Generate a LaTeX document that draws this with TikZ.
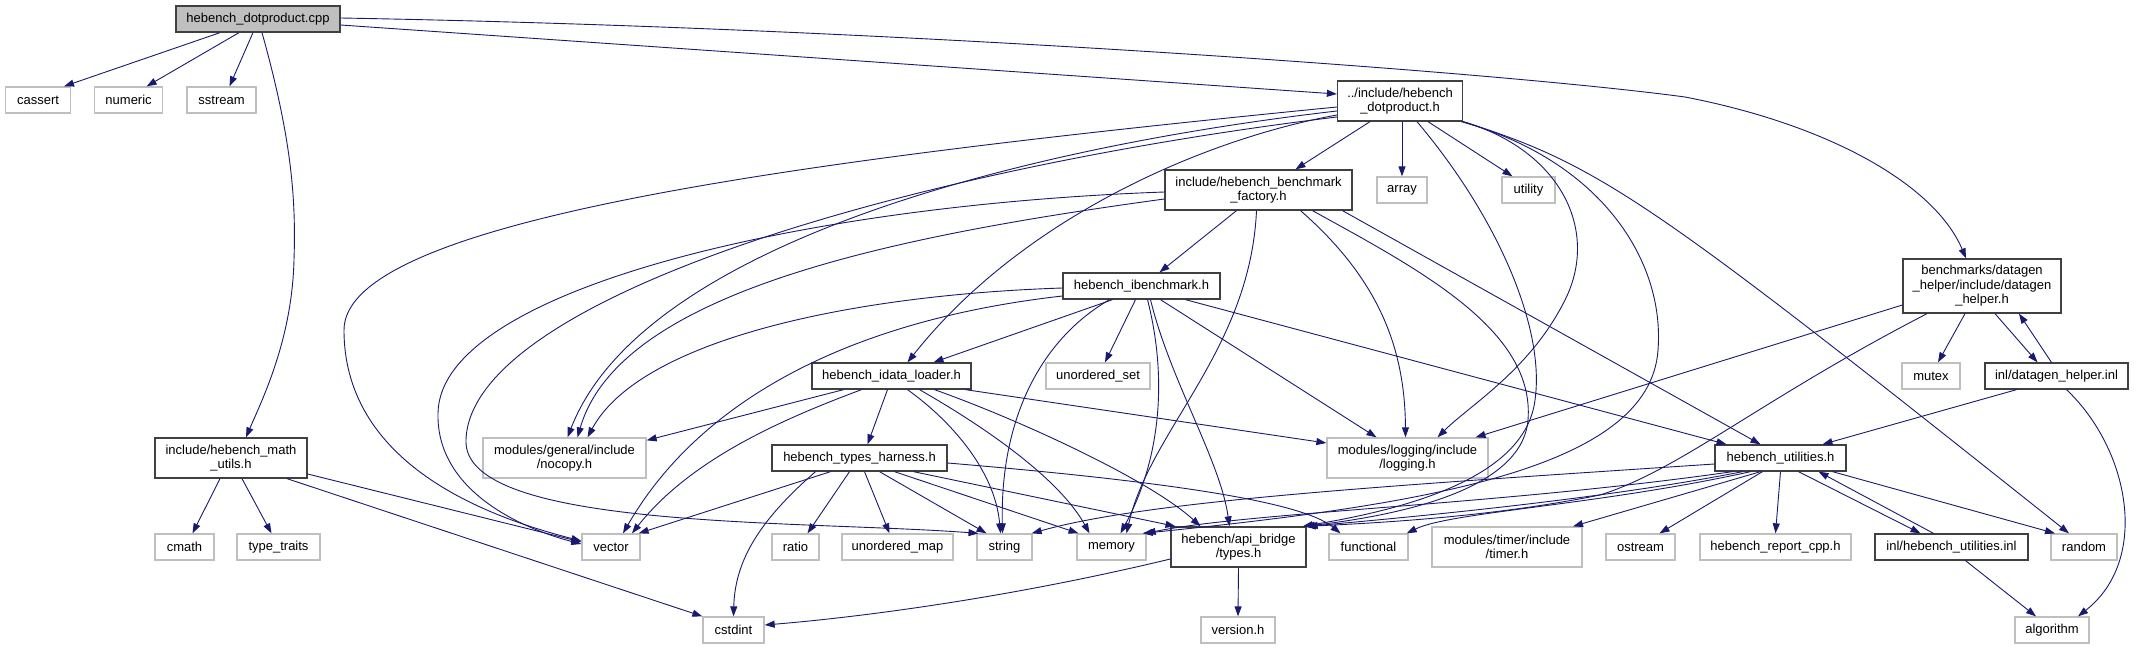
\documentclass[tikz,border=0pt]{standalone}
\usepackage{fontspec}
\setmainfont{Liberation Sans}
\usetikzlibrary{arrows.meta}
\definecolor{edgec}{HTML}{191970}
\definecolor{gline}{HTML}{BFBFBF}
\definecolor{dline}{HTML}{404040}
\definecolor{cppfill}{HTML}{BFBFBF}
\newcommand{\nodefont}{\fontsize{13}{14.5}\selectfont}
\begin{document}
\begin{tikzpicture}[x=1pt,y=-1pt,
  own/.style={draw=dline, line width=1.3pt, fill=white, inner sep=0pt, align=center, font=\nodefont},
  sys/.style={draw=gline, line width=1.3pt, fill=white, inner sep=0pt, align=center, font=\nodefont},
  dep/.style={draw=edgec, line width=0.9pt, -{Triangle[length=10pt,width=7pt]}, fill=none}]
\useasboundingbox (0,0) rectangle (2144,648);
% ---------------- nodes ----------------
\node[own, fill=cppfill, minimum width=164pt, minimum height=26pt] (cpp) at (258,19) {hebench\_dotproduct.cpp};
\node[sys, minimum width=65pt, minimum height=26pt] (cassert) at (38,100) {cassert};
\node[sys, minimum width=68pt, minimum height=26pt] (numeric) at (128.6,100) {numeric};
\node[sys, minimum width=69pt, minimum height=26pt] (sstream) at (221.5,100) {sstream};
\node[own, minimum width=125pt, minimum height=40pt] (dph) at (1400,101) {../include/hebench\\\_dotproduct.h};
\node[own, minimum width=187pt, minimum height=40pt] (factory) at (1258.5,190) {include/hebench\_benchmark\\\_factory.h};
\node[sys, minimum width=50pt, minimum height=26pt] (array) at (1402,190) {array};
\node[sys, minimum width=53pt, minimum height=26pt] (utility) at (1528.5,190) {utility};
\node[own, minimum width=158pt, minimum height=54pt] (datagen) at (1982,286) {benchmarks/datagen\\\_helper/include/datagen\\\_helper.h};
\node[own, minimum width=157pt, minimum height=26pt] (ibench) at (1141.5,286) {hebench\_ibenchmark.h};
\node[sys, minimum width=58pt, minimum height=26pt] (mutex) at (1931,376) {mutex};
\node[own, minimum width=143pt, minimum height=26pt] (inldg) at (2056.5,376) {inl/datagen\_helper.inl};
\node[own, minimum width=159pt, minimum height=26pt] (idata) at (891.5,376) {hebench\_idata\_loader.h};
\node[sys, minimum width=104pt, minimum height=26pt] (uset) at (1098,376) {unordered\_set};
\node[own, minimum width=152pt, minimum height=40pt] (math) at (231,458) {include/hebench\_math\\\_utils.h};
\node[sys, minimum width=163pt, minimum height=40pt] (nocopy) at (564.5,458) {modules/general/include\\/nocopy.h};
\node[sys, minimum width=161pt, minimum height=40pt] (logging) at (1407.5,458) {modules/logging/include\\/logging.h};
\node[own, minimum width=175pt, minimum height=26pt] (harness) at (859.5,458) {hebench\_types\_harness.h};
\node[own, minimum width=131pt, minimum height=26pt] (utilities) at (1780.5,458) {hebench\_utilities.h};
\node[sys, minimum width=59pt, minimum height=26pt] (cmath) at (184.5,547) {cmath};
\node[sys, minimum width=83pt, minimum height=26pt] (ttraits) at (278.5,547) {type\_traits};
\node[sys, minimum width=58pt, minimum height=26pt] (vector) at (611,547) {vector};
\node[sys, minimum width=47pt, minimum height=26pt] (ratio) at (795.5,547) {ratio};
\node[sys, minimum width=111pt, minimum height=26pt] (umap) at (897.5,547) {unordered\_map};
\node[sys, minimum width=55pt, minimum height=26pt] (string) at (1004.5,547) {string};
\node[sys, minimum width=69pt, minimum height=26pt] (memory) at (1111.5,547) {memory};
\node[own, minimum width=135pt, minimum height=40pt] (types) at (1238.5,547) {hebench/api\_bridge\\/types.h};
\node[sys, minimum width=79pt, minimum height=26pt] (functional) at (1368.5,547) {functional};
\node[sys, minimum width=150pt, minimum height=40pt] (timer) at (1507,547) {modules/timer/include\\/timer.h};
\node[sys, minimum width=69pt, minimum height=26pt] (ostream) at (1640.5,547) {ostream};
\node[sys, minimum width=151pt, minimum height=26pt] (report) at (1775.5,547) {hebench\_report\_cpp.h};
\node[own, minimum width=153pt, minimum height=26pt] (inlut) at (1951.5,547) {inl/hebench\_utilities.inl};
\node[sys, minimum width=66pt, minimum height=26pt] (random) at (2084,547) {random};
\node[sys, minimum width=61pt, minimum height=26pt] (cstdint) at (733.5,630) {cstdint};
\node[sys, minimum width=74pt, minimum height=26pt] (version) at (1238,630) {version.h};
\node[sys, minimum width=74pt, minimum height=26pt] (algorithm) at (2052,630) {algorithm};
% ---------------- edges: cpp ----------------
\draw[dep] ([xshift=-38pt]cpp.south) -- ([xshift=26pt]cassert.north);
\draw[dep] ([xshift=-19pt]cpp.south) -- ([xshift=18pt]numeric.north);
\draw[dep] ([xshift=-5pt]cpp.south) -- ([xshift=8pt]sstream.north);
\draw[dep] ([xshift=4pt]cpp.south) .. controls (292,140) and (296,200) .. (294,260) .. controls (292,340) and (262,400) .. ([xshift=15pt]math.north);
\draw[dep] ([yshift=-6pt]cpp.east) -- ([yshift=7pt]dph.west);
\draw[dep] ([yshift=1pt]cpp.east) .. controls (900,28) and (1500,72) .. (1685,97) .. controls (1830,125) and (1935,185) .. ([xshift=-16pt]datagen.north);
% ---------------- edges: dotproduct.h ----------------
\draw[dep] ([xshift=-30pt]dph.south) -- ([xshift=37pt]factory.north);
\draw[dep] ([xshift=2pt]dph.south) -- (array.north);
\draw[dep] ([xshift=28pt]dph.south) -- ([xshift=-16pt]utility.north);
\draw[dep] ([yshift=-14pt]dph.west) .. controls (1200,140) and (1020,220) .. ([xshift=16pt]idata.north);
\draw[dep] (dph.south east) .. controls (1560,150) and (1600,230) .. (1565,300) .. controls (1530,370) and (1470,405) .. ([xshift=30pt]logging.north);
\draw[dep] ([xshift=17pt]dph.south) .. controls (1500,220) and (1545,330) .. (1535,400) .. controls (1525,480) and (1400,510) .. ([xshift=-4pt]types.north east);
\draw[dep] ([xshift=-2pt]dph.south east) .. controls (1600,160) and (1665,260) .. (1658,350) .. controls (1650,470) and (1420,505) .. ([xshift=-4pt]memory.north east);
\draw[dep] (dph.south east) .. controls (1600,165) and (1650,200) .. ([xshift=-15pt]random.north);
\draw[dep] ([yshift=-6pt]dph.west) .. controls (800,160) and (344,220) .. (344,330) .. controls (344,470) and (500,520) .. ([yshift=6pt]vector.west);
\draw[dep] ([yshift=-10pt]dph.west) .. controls (1000,150) and (640,250) .. ([xshift=3pt]nocopy.north);
\draw[dep] ([yshift=-16pt]dph.west) .. controls (900,170) and (470,300) .. (466,440) .. controls (462,530) and (800,520) .. ([xshift=-26pt]string.north);
% ---------------- edges: factory ----------------
\draw[dep] ([xshift=-22pt]factory.south) -- ([xshift=18pt]ibench.north);
\draw[dep] ([xshift=-2pt]factory.south) .. controls (1250,350) and (1150,430) .. ([xshift=15pt]memory.north);
\draw[dep] ([xshift=42pt]factory.south) .. controls (1380,280) and (1405,350) .. ([xshift=-2pt]logging.north);
\draw[dep] ([xshift=54pt]factory.south) .. controls (1420,270) and (1535,330) .. (1528,420) .. controls (1522,490) and (1400,515) .. ([xshift=-2pt]types.north east);
\draw[dep] ([xshift=84pt]factory.south) -- ([xshift=-20pt]utilities.north);
\draw[dep] ([yshift=-2pt]factory.west) .. controls (800,205) and (440,290) .. (438,413) .. controls (436,490) and (520,528) .. ([yshift=3pt]vector.west);
\draw[dep] ([yshift=-9pt]factory.west) .. controls (900,235) and (620,290) .. ([xshift=13pt]nocopy.north);
% ---------------- edges: ibenchmark ----------------
\draw[dep] ([xshift=-29pt]ibench.south) -- ([xshift=42pt]idata.north);
\draw[dep] ([xshift=-6pt]ibench.south) -- ([xshift=7pt]uset.north);
\draw[dep] ([xshift=-32pt]ibench.south) .. controls (1040,340) and (1000,420) .. ([xshift=-2pt]string.north);
\draw[dep] ([xshift=6pt]ibench.south) .. controls (1168,380) and (1160,460) .. ([xshift=9pt]memory.north);
\draw[dep] ([xshift=9pt]ibench.south) .. controls (1170,380) and (1220,460) .. ([xshift=-9pt]types.north);
\draw[dep] ([xshift=19pt]ibench.south) -- ([xshift=-31pt]logging.north);
\draw[dep] ([xshift=44pt]ibench.south) -- ([xshift=-54pt]utilities.north);
\draw[dep] ([yshift=-2pt]ibench.west) .. controls (850,295) and (640,340) .. ([xshift=23pt]nocopy.north);
\draw[dep] ([yshift=-10pt]ibench.west) .. controls (850,320) and (700,400) .. ([xshift=12pt]vector.north);
% ---------------- edges: idata_loader ----------------
\draw[dep] ([xshift=-48pt]idata.south) -- ([yshift=-3pt]nocopy.north east);
\draw[dep] ([xshift=-30pt]idata.south) .. controls (780,420) and (690,460) .. ([xshift=21pt]vector.north);
\draw[dep] ([xshift=-4pt]idata.south) -- ([xshift=8pt]harness.north);
\draw[dep] ([xshift=16pt]idata.south) .. controls (950,420) and (995,470) .. ([xshift=-4pt]string.north);
\draw[dep] ([xshift=28pt]idata.south) .. controls (990,430) and (1060,480) .. ([xshift=-22pt]memory.north);
\draw[dep] ([xshift=43pt]idata.south) .. controls (1020,420) and (1150,480) .. ([xshift=-38pt]types.north);
\draw[dep] ([xshift=74pt]idata.south) -- ([yshift=15pt]logging.west);
% ---------------- edges: types_harness ----------------
\draw[dep] ([xshift=-44pt]harness.south) .. controls (760,520) and (735,560) .. (cstdint.north);
\draw[dep] ([xshift=-29pt]harness.south) -- ([xshift=-2pt]vector.north east);
\draw[dep] ([xshift=-10pt]harness.south) -- ([xshift=12pt]ratio.north);
\draw[dep] ([xshift=5pt]harness.south) -- ([xshift=-8pt]umap.north);
\draw[dep] ([xshift=20pt]harness.south) -- ([xshift=-18pt]string.north);
\draw[dep] ([xshift=35pt]harness.south) -- ([xshift=-33pt]memory.north);
\draw[dep] ([xshift=54pt]harness.south) -- ([xshift=-63pt]types.north);
\draw[dep] ([yshift=-5pt]harness.east) .. controls (1150,480) and (1300,500) .. ([xshift=-28pt]functional.north);
% ---------------- edges: math_utils ----------------
\draw[dep] ([xshift=-11pt]math.south) -- ([xshift=8pt]cmath.north);
\draw[dep] ([xshift=11pt]math.south) -- ([xshift=-7pt]ttraits.north);
\draw[dep] ([yshift=-16pt]math.east) -- ([yshift=5pt]vector.west);
\draw[dep] ([xshift=56pt]math.south) -- (cstdint.north west);
% ---------------- edges: types.h ----------------
\draw[dep] ([yshift=-12pt]types.west) .. controls (1000,600) and (850,618) .. ([yshift=5pt]cstdint.east);
\draw[dep] (types.south) -- (version.north);
% ---------------- edges: datagen ----------------
\draw[dep] ([yshift=-19pt]datagen.west) -- ([xshift=68pt]logging.north);
\draw[dep] ([xshift=-55pt]datagen.south) .. controls (1760,400) and (1680,470) .. (1600,495) .. controls (1500,515) and (1400,522) .. ([xshift=-1pt]types.north east);
\draw[dep] ([xshift=-17pt]datagen.south) -- ([xshift=7pt]mutex.north);
\draw[dep] ([xshift=13pt]datagen.south) -- ([xshift=-19pt]inldg.north);
\draw[dep] ([xshift=-5pt]inldg.north) -- ([xshift=37pt]datagen.south);
\draw[dep] ([xshift=-40pt]inldg.south) -- ([xshift=42pt]utilities.north);
\draw[dep] ([xshift=10pt]inldg.south) .. controls (2130,450) and (2150,560) .. ([xshift=26pt]algorithm.north);
% ---------------- edges: utilities ----------------
\draw[dep] ([yshift=-6pt]utilities.west) .. controls (1400,485) and (1150,500) .. ([xshift=-1pt]string.north east);
\draw[dep] ([xshift=-48pt]utilities.south) .. controls (1500,505) and (1250,512) .. ([xshift=-1pt]memory.north east);
\draw[dep] ([xshift=-38pt]utilities.south) .. controls (1600,500) and (1400,518) .. ([xshift=1pt]types.north east);
\draw[dep] ([xshift=-30pt]utilities.south) .. controls (1600,505) and (1450,512) .. ([xshift=-2pt]functional.north east);
\draw[dep] ([xshift=-20pt]utilities.south) -- ([xshift=66pt]timer.north);
\draw[dep] ([xshift=-18pt]utilities.south) -- ([xshift=19pt]ostream.north);
\draw[dep] (utilities.south) -- (report.north);
\draw[dep] ([xshift=18pt]utilities.south) -- ([xshift=-31pt]inlut.north);
\draw[dep] ([xshift=52pt]utilities.south) -- ([xshift=-29pt]random.north);
\draw[dep] ([xshift=-18pt]inlut.north) -- ([xshift=38pt]utilities.south);
\draw[dep] ([xshift=14pt]inlut.south) -- ([xshift=-16pt]algorithm.north);
\end{tikzpicture}
\end{document}
